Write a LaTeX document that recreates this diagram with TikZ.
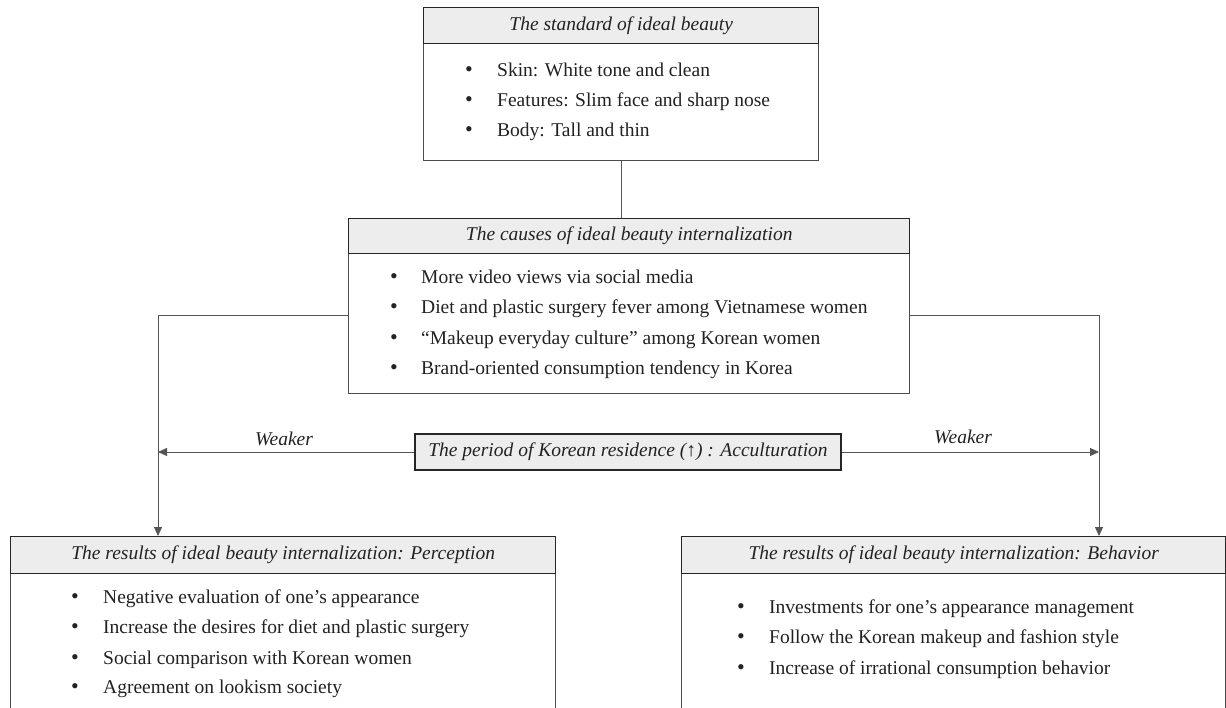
\documentclass[tikz,border=0pt]{standalone}
\usepackage{fontspec}
\setmainfont{Liberation Serif}
\usetikzlibrary{arrows.meta,calc}
\definecolor{hdrfill}{HTML}{EDEDED}
\definecolor{txt}{HTML}{222222}
\definecolor{conn}{HTML}{555555}
\tikzset{
  hdr/.style={draw=black!85,line width=1.4pt,fill=hdrfill,inner sep=0pt,anchor=north west,text=txt,font=\fontsize{19.5}{22}\selectfont\itshape},
  bodybox/.style={draw=black!70,line width=0.9pt,fill=white,inner sep=0pt,anchor=north west},
  item/.style={anchor=base west,inner sep=0pt,text=txt,font=\fontsize{19.5}{22}\selectfont},
  bul/.style={anchor=base,inner sep=0pt,text=txt,font=\fontsize{22}{24}\selectfont},
  lbl/.style={inner sep=0pt,text=txt,font=\fontsize{19.5}{22}\selectfont\itshape},
  conline/.style={draw=conn,line width=0.9pt},
  arr/.style={conline,-{Triangle[length=9pt,width=8pt]}},
}
\begin{document}
\begin{tikzpicture}[x=1pt,y=-1pt]
\useasboundingbox (0,0) rectangle (1226,708);
\clip (0,0) rectangle (1226,708);
\fill[white] (0,0) rectangle (1226,708);

% top box
\node[bodybox,minimum width=395pt,minimum height=117pt] (topB) at (423,43) {};
\node[hdr,minimum width=395pt,minimum height=36pt] (topH) at (423,7) {The standard of ideal beauty};
\foreach \t/\y [count=\i] in {{Skin: White tone and clean}/77,{Features: Slim face and sharp nose}/107,{Body: Tall and thin}/137}{
  \node[bul] (topb\i) at (469,\y) {•};
  \node[item] (topt\i) at (497,\y) {\t};
}

% middle box
\node[bodybox,minimum width=561pt,minimum height=140pt] (midB) at (348,253) {};
\node[hdr,minimum width=561pt,minimum height=35pt] (midH) at (348,218) {The causes of ideal beauty internalization};
\foreach \t/\y [count=\i] in {{More video views via social media}/284,{Diet and plastic surgery fever among Vietnamese women}/314,{“Makeup everyday culture” among Korean women}/345,{Brand-oriented consumption tendency in Korea}/374}{
  \node[bul] (midb\i) at (394,\y) {•};
  \node[item] (midt\i) at (421,\y) {\t};
}

% acculturation box
\node[hdr,minimum width=426pt,minimum height=36pt,anchor=center] (acc) at (628,452) {The period of Korean residence (↑) : Acculturation};

% bottom left
\node[bodybox,minimum width=545pt,minimum height=160pt] (perB) at (10,573) {};
\node[hdr,minimum width=545pt,minimum height=37pt] (perH) at (10,536) {The results of ideal beauty internalization: Perception};
\foreach \t/\y [count=\i] in {{Negative evaluation of one’s appearance}/603,{Increase the desires for diet and plastic surgery}/633,{Social comparison with Korean women}/664,{Agreement on lookism society}/693}{
  \node[bul] (perb\i) at (75,\y) {•};
  \node[item] (pert\i) at (103,\y) {\t};
}

% bottom right
\node[bodybox,minimum width=544pt,minimum height=160pt] (behB) at (681,573) {};
\node[hdr,minimum width=544pt,minimum height=37pt] (behH) at (681,536) {The results of ideal beauty internalization: Behavior};
\foreach \t/\y [count=\i] in {{Investments for one’s appearance management}/613,{Follow the Korean makeup and fashion style}/643,{Increase of irrational consumption behavior}/674}{
  \node[bul] (behb\i) at (741,\y) {•};
  \node[item] (beht\i) at (769,\y) {\t};
}

% connectors
\coordinate (Lc) at (158,315);
\coordinate (Rc) at (1099,315);
\coordinate (Lend) at (158,536);
\coordinate (Rend) at (1099,536);
\draw[conline] (topB.south) -- (topB.south |- midH.north);
\draw[arr] (midB.west |- Lc) -- (Lc) -- (Lend);
\draw[arr] (midB.east |- Rc) -- (Rc) -- (Rend);
\draw[arr] (acc.west) -- (acc.west -| Lc);
\draw[arr] (acc.east) -- (acc.east -| Rc);
\node[lbl] (wl) at (284,439) {Weaker};
\node[lbl] (wr) at (963,437) {Weaker};
\end{tikzpicture}
\end{document}
